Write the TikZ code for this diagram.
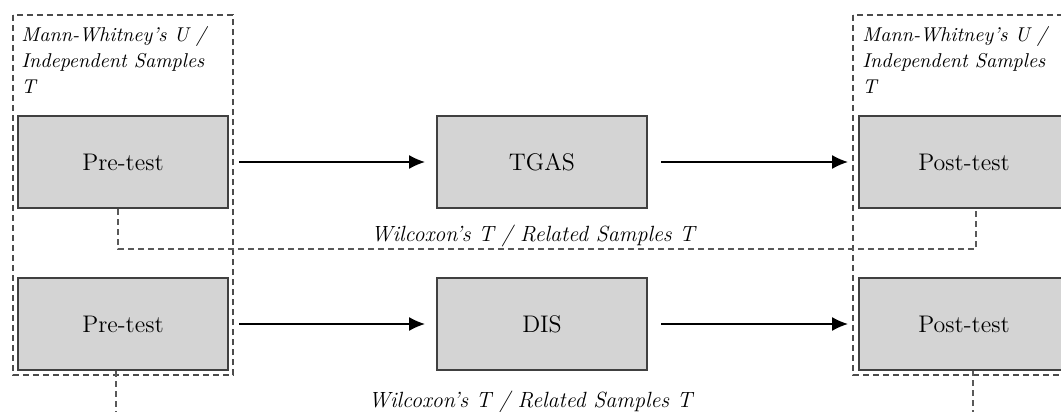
\documentclass[tikz,border=0pt]{standalone}
\usepackage{amsmath}
\usetikzlibrary{arrows.meta}
\tikzset{
  stage/.style={draw=black!75, line width=1pt, fill=black!17, minimum width=105pt, minimum height=46pt, inner sep=0pt, font=\fontsize{12}{14}\selectfont},
  frame/.style={draw=black!70, line width=0.8pt, dash pattern=on 3pt off 2pt},
  link/.style={draw=black!65, line width=0.7pt, dash pattern=on 3pt off 2pt},
  flow/.style={line width=0.7pt, -{Latex[length=8pt,width=7pt]}},
  testname/.style={font=\fontsize{10}{13}\selectfont\itshape, align=left, anchor=north west, inner sep=0pt},
  pairname/.style={font=\fontsize{11}{13}\selectfont\itshape, inner sep=0.5pt}
}

\begin{document}
\begin{tikzpicture}[x=0.5pt,y=-0.5pt]
                    \clip (0,0) rectangle (1061,412);
                    \fill[white] (0,0) rectangle (1061,412);
                    \draw[frame] (13,15) rectangle (233,375);
                    \draw[frame] (853,15) rectangle (1073,375);
                    \node[testname] (utestpre) at (21,26) {Mann-Whitney's U /\\Independent Samples\\T};
                    \node[testname] (utestpost) at (862,26) {Mann-Whitney's U /\\Independent Samples\\T};
                    \node[stage] (preA) at (123,162) {Pre-test};
                    \node[stage] (tgas) at (542,162) {TGAS};
                    \node[stage] (postA) at (964,162) {Post-test};
                    \node[stage] (preB) at (123,324) {Pre-test};
                    \node[stage] (dis) at (542,324) {DIS};
                    \node[stage] (postB) at (964,324) {Post-test};
                    \draw[flow] ([xshift=5pt]preA.east) -- ([xshift=-5.5pt]tgas.west);
                    \draw[flow] ([xshift=6.5pt]tgas.east) -- ([xshift=-5pt]postA.west);
                    \draw[flow] ([xshift=5pt]preB.east) -- ([xshift=-5.5pt]dis.west);
                    \draw[flow] ([xshift=6.5pt]dis.east) -- ([xshift=-5pt]postB.west);
                    \draw[link] ([xshift=-2.5pt]preA.south) -- ++(0,40) -| ([xshift=6pt]postA.south)
                        node[pos=0.25, above, xshift=-7pt, pairname] (wilcoxA) {Wilcoxon's T / Related Samples T};
                    \draw[link] ([xshift=-3.5pt]preB.south) -- ++(0,44) -| ([xshift=4.5pt]postB.south)
                        node[pos=0.25, above, xshift=-7pt, pairname] (wilcoxB) {Wilcoxon's T / Related Samples T};
                \end{tikzpicture}
\end{document}
